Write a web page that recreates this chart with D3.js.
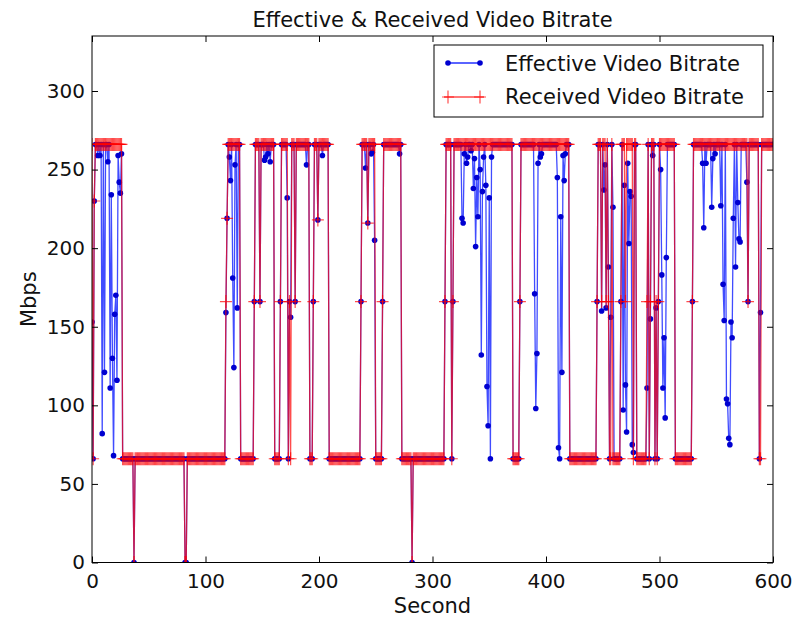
<!DOCTYPE html>
<html><head><meta charset="utf-8">
<script src="https://cdn.jsdelivr.net/npm/d3@7/dist/d3.min.js"></script>
<style>
body{margin:0;background:#fff}
text{font-family:"DejaVu Sans",sans-serif;fill:#111}
</style>
</head><body>
<svg id="c" width="796" height="617"></svg>
<script>
// ---- data ----
const titleText = "Effective & Received Video Bitrate";
const xLabel = "Second";
const yLabel = "Mbps";
const xTicks = [0,100,200,300,400,500,600];
const yTicks = [0,50,100,150,200,250,300];
const seriesNames = ["Effective Video Bitrate","Received Video Bitrate"];

// Received bitrate, read per second as runs: [fromSecond, toSecond, Mbps]
const receivedRuns = [
 [0,0,266],[1,1,66],[2,2,230],[3,26,266],[27,36,66],[37,37,0],[38,81,66],[82,83,0],
 [84,117,66],[118,118,166],[119,119,219],[120,130,266],[131,142,66],[143,143,166],
 [144,147,266],[148,148,166],[149,160,266],[161,165,66],[166,166,166],[167,172,266],
 [173,173,66],[174,174,166],[175,175,66],[176,178,266],[179,179,166],[180,191,266],
 [192,194,66],[195,195,166],[196,198,266],[199,199,218],[200,208,266],[209,236,66],
 [237,237,166],[238,242,266],[243,243,216],[244,249,266],[250,255,66],[256,256,166],
 [257,272,266],[273,281,66],[282,282,0],[283,310,66],[311,311,166],[312,316,266],
 [317,317,66],[318,318,166],[319,370,266],[371,376,66],[377,377,166],[378,420,266],
 [421,444,66],[445,445,166],[446,448,266],[449,449,166],[450,452,266],[453,453,166],
 [454,454,266],[455,455,166],[456,457,66],[458,458,266],[459,465,66],[466,466,166],
 [467,469,266],[470,470,166],[471,476,266],[477,477,66],[478,479,266],[480,488,66],
 [489,489,166],[490,490,266],[491,491,66],[492,492,166],[493,495,266],[496,496,66],
 [497,497,166],[498,498,66],[499,499,166],[500,513,266],[514,528,66],[529,529,166],
 [530,577,266],[578,578,166],[579,587,266],[588,589,66],[590,600,266]
];

// Effective bitrate: seconds where it differs from the received bitrate [second, Mbps]
const effectiveDips = [
 [0,153],[5,259],[7,259],[9,82],[11,121],[14,255],[16,111],[17,234],[18,130],[19,68],
 [20,158],[21,170],[22,116],[23,259],[24,242],[25,235],[26,260],
 [118,159],[121,258],[122,243],[124,181],[125,124],[126,253],[128,162],
 [152,256],[153,258],[155,260],[157,255],[172,232],[175,156],[189,253],[203,259],
 [241,251],[246,260],[247,261],[249,205],[271,260],
 [326,219],[327,216],[328,260],[330,254],[331,258],[334,262],[336,238],[337,257],
 [338,201],[339,245],[340,220],[342,250],[343,132],[344,236],[345,258],[347,240],
 [348,112],[349,87],[350,232],[351,66],[352,258],
 [390,171],[391,98],[392,133],[393,254],[395,258],[396,260],
 [410,245],[411,73],[412,66],[413,220],[414,121],[415,259],[416,243],[417,260],
 [449,160],[451,237],[452,253],[453,162],[455,188],[457,156],[459,226],
 [468,97],[469,240],[470,113],[471,83],[472,254],[473,203],[474,236],[475,233],[476,75],[477,70],
 [489,111],[492,155],[494,259],[497,162],[501,250],[502,183],[503,111],[504,143],[505,92],[506,194],
 [538,254],[539,213],[541,254],[546,226],[547,257],[549,260],[554,227],[556,177],[557,154],
 [559,104],[560,101],[561,79],[562,75],[563,153],[564,143],[565,219],[567,188],[569,229],
 [570,206],[571,204],[577,242],[589,159]
];

// ---- build series ----
const received = [];
receivedRuns.forEach(([a,b,v]) => { for (let t=a; t<=b; t++) received.push({t, v}); });
const dipMap = new Map(effectiveDips);
const effective = received.map(d => ({t:d.t, v: dipMap.has(d.t) ? dipMap.get(d.t) : d.v}));

// ---- layout ----
const L=92, R=773, T=36, B=562.5;
const svg = d3.select("#c");
const x = d3.scaleLinear().domain([0,600]).range([L,R]);
const y = d3.scaleLinear().domain([0,335]).range([B,T]);

const plot = svg.append("g");
plot.append("defs").append("clipPath").attr("id","clip")
  .append("rect").attr("x",L).attr("y",T).attr("width",R-L).attr("height",B-T);
const g = plot.append("g").attr("clip-path","url(#clip)");

const line = d3.line().x(d=>x(d.t)).y(d=>y(d.v));

// effective (blue)
g.append("path").datum(effective).attr("d",line)
  .attr("fill","none").attr("stroke","#0010ff").attr("stroke-opacity",0.75).attr("stroke-width",1.3);
g.append("g").selectAll("circle").data(effective).join("circle")
  .attr("cx",d=>x(d.t)).attr("cy",d=>y(d.v)).attr("r",2.8).attr("fill","#0000d0");

// received (red)
g.append("path").datum(received).attr("d",line)
  .attr("fill","none").attr("stroke","#ff0000").attr("stroke-opacity",0.7).attr("stroke-width",1.3);
const plusPath = "M-6,0H6M0,-6.5V6.5";
g.append("g").selectAll("path").data(received).join("path")
  .attr("d",plusPath).attr("transform",d=>`translate(${x(d.t)},${y(d.v)})`)
  .attr("stroke","#ff0000").attr("stroke-opacity",0.7).attr("stroke-width",1.2).attr("fill","none");

// axes
const fs = 20;
const ax = svg.append("g").attr("transform",`translate(0,${B})`)
  .call(d3.axisBottom(x).tickValues(xTicks).tickSize(-6).tickPadding(11));
const ay = svg.append("g").attr("transform",`translate(${L},0)`)
  .call(d3.axisLeft(y).tickValues(yTicks).tickSize(-6).tickPadding(7));
const axT = svg.append("g").attr("transform",`translate(0,${T})`)
  .call(d3.axisTop(x).tickValues(xTicks).tickSize(-6).tickFormat(""));
const ayR = svg.append("g").attr("transform",`translate(${R},0)`)
  .call(d3.axisRight(y).tickValues(yTicks).tickSize(-6).tickFormat(""));
[ax,ay,axT,ayR].forEach(a=>{
  a.select(".domain").remove();
  a.selectAll("line").attr("stroke","#000");
  a.selectAll("text").style("font-size",fs+"px").attr("fill","#111");
});
svg.append("rect").attr("x",L).attr("y",T).attr("width",R-L).attr("height",B-T)
  .attr("fill","none").attr("stroke","#000").attr("stroke-width",1);

// labels
svg.append("text").attr("x",(L+R)/2).attr("y",27).attr("text-anchor","middle")
  .style("font-size","21px").text(titleText);
svg.append("text").attr("x",(L+R)/2).attr("y",613).attr("text-anchor","middle")
  .style("font-size","21px").text(xLabel);
svg.append("text").attr("transform",`translate(36,${(T+B)/2}) rotate(-90)`)
  .attr("text-anchor","middle").style("font-size","21px").text(yLabel);

// legend
const lg = svg.append("g");
lg.append("rect").attr("x",434).attr("y",45).attr("width",329).attr("height",72)
  .attr("fill","#fff").attr("stroke","#000").attr("stroke-width",1);
lg.append("line").attr("x1",448).attr("x2",480).attr("y1",63).attr("y2",63)
  .attr("stroke","#0010ff").attr("stroke-width",1.3);
[448,480].forEach(px=>lg.append("circle").attr("cx",px).attr("cy",63).attr("r",2.8).attr("fill","#0000d0"));
lg.append("line").attr("x1",444).attr("x2",484).attr("y1",97).attr("y2",97)
  .attr("stroke","#ff0000").attr("stroke-opacity",0.7).attr("stroke-width",1.3);
[448,480].forEach(px=>lg.append("path").attr("d",plusPath).attr("transform",`translate(${px},97)`)
  .attr("stroke","#ff0000").attr("stroke-opacity",0.7).attr("stroke-width",1.2));
lg.append("text").attr("x",505).attr("y",71).style("font-size","21px").text(seriesNames[0]);
lg.append("text").attr("x",505).attr("y",104).style("font-size","21px").text(seriesNames[1]);
</script>
</body></html>
